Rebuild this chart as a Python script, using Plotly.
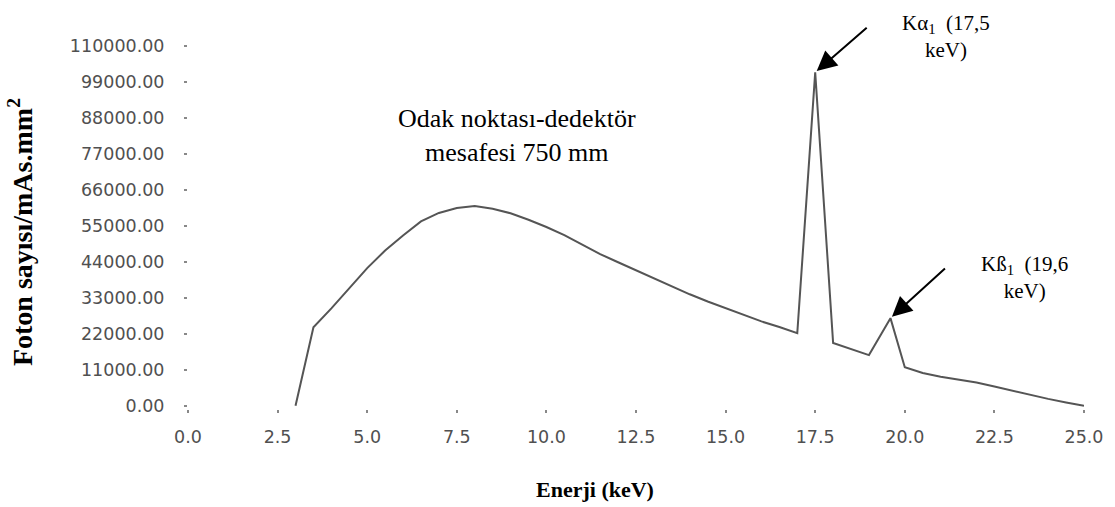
import plotly.graph_objects as go

# X-ray spectrum: photon count per mAs.mm^2 versus energy
energy_kev = [3.0, 3.5, 4.0, 4.5, 5.0, 5.5, 6.0, 6.5, 7.0, 7.5, 8.0, 8.5, 9.0, 9.5,
              10.0, 10.5, 11.0, 11.5, 12.0, 12.5, 13.0, 13.5, 14.0, 14.5, 15.0,
              15.5, 16.0, 16.5, 17.0, 17.5, 18.0, 19.0, 19.6, 20.0, 20.5, 21.0,
              21.5, 22.0, 22.5, 23.0, 23.5, 24.0, 24.5, 25.0]
photon_count = [0, 24000, 29800, 35900, 42100, 47500, 52100, 56400, 59000, 60500,
                61100, 60300, 58900, 56900, 54700, 52200, 49200, 46400, 43900,
                41400, 38900, 36400, 34100, 31900, 29900, 27800, 25800, 24100,
                22200, 102000, 19200, 15500, 26800, 11800, 10000, 8900, 8000,
                7100, 5900, 4600, 3200, 2100, 1000, 0]

x_ticks = [0.0, 2.5, 5.0, 7.5, 10.0, 12.5, 15.0, 17.5, 20.0, 22.5, 25.0]
y_ticks = [0, 11000, 22000, 33000, 44000, 55000, 66000, 77000, 88000, 99000, 110000]

k_alpha = (17.5, 102000)
k_beta = (19.6, 26800)

W, H = 1115, 507
L, R, T, B = 188, 25, 42.7, 97.7
PW, PH = W - L - R, H - T - B


def paper_x(px):
    return (px - L) / PW


def paper_y(py):
    return (H - B - py) / PH


tick_font = dict(family="DejaVu Sans", size=17.5, color="#505050")

fig = go.Figure()
fig.add_trace(go.Scatter(
    x=energy_kev, y=photon_count, mode="lines",
    line=dict(color="#555555", width=2),
    showlegend=False, hoverinfo="skip",
))

fig.update_layout(
    width=W, height=H,
    margin=dict(l=L, r=R, t=T, b=B, pad=0),
    paper_bgcolor="white", plot_bgcolor="white",
    xaxis=dict(range=[0, 25], tickvals=x_ticks, tickformat=".1f",
               showgrid=False, zeroline=False, showline=False,
               ticks="outside", ticklen=3, tickwidth=2, tickcolor="#888888",
               ticklabelstandoff=9, tickfont=tick_font),
    yaxis=dict(range=[-1000, 111000], tickvals=y_ticks, tickformat=".2f",
               showgrid=False, zeroline=False, showline=False,
               ticks="outside", ticklen=3, tickwidth=2, tickcolor="#888888",
               ticklabelstandoff=16, tickfont=tick_font),
)

serif_y = dict(family="Liberation Serif", size=28, color="black")
serif_x = dict(family="Liberation Serif", size=22, color="black")
serif = dict(family="Liberation Serif", size=26, color="black")
serif_k = dict(family="Liberation Serif", size=21, color="black")

annotations = [
    dict(text="<b>Foton sayısı/mAs.mm<sup>2</sup></b>", textangle=-90,
         x=paper_x(20), y=paper_y(232), font=serif_y),
    dict(text="<b>Enerji (keV)</b>", x=paper_x(598), y=paper_y(490), font=serif_x),
    dict(text="Odak noktası-dedektör<br>mesafesi 750 mm",
         x=paper_x(519), y=paper_y(135), font=serif),
    dict(text="Kα<sub>1</sub>&nbsp; (17,5<br>keV)",
         x=paper_x(951), y=paper_y(36), font=serif_k),
    dict(text="Kß<sub>1</sub>&nbsp; (19,6<br>keV)",
         x=paper_x(1030), y=paper_y(278), font=serif_k),
]
for a in annotations:
    fig.add_annotation(xref="paper", yref="paper", showarrow=False,
                       xanchor="center", yanchor="middle", **a)

# arrows pointing at the two characteristic lines
for (ex, cy), (dx, dy) in [(k_alpha, (53, -46)), (k_beta, (56, -51))]:
    fig.add_annotation(x=ex, y=cy, xref="x", yref="y", text="",
                       showarrow=True, arrowhead=2, arrowsize=2,
                       arrowwidth=2, arrowcolor="black",
                       ax=dx, ay=dy, standoff=2)

fig.write_html("out.html")
